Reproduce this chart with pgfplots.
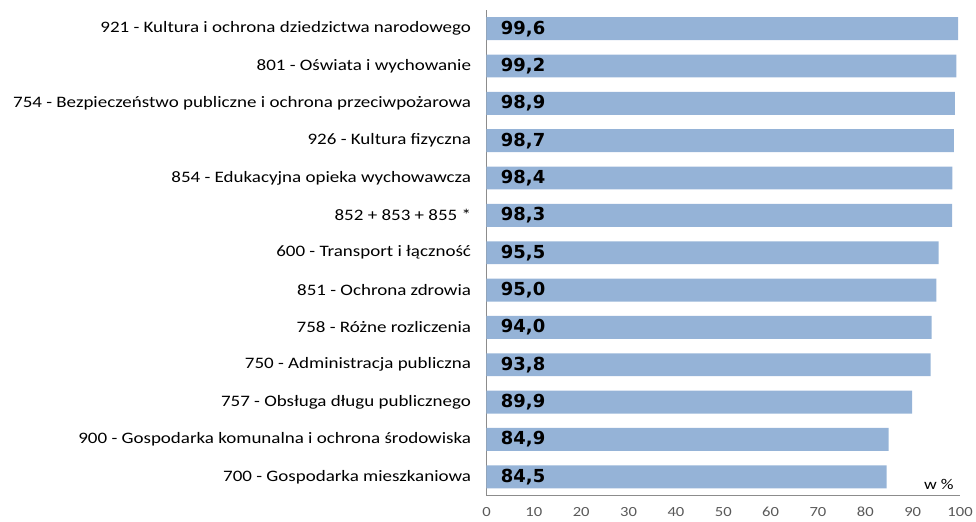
\documentclass[border=0pt]{standalone}
\usepackage{fontspec}
\setmainfont{Carlito}[FakeStretch=1.19]
\newfontfamily\valfont{DejaVu Sans}
\usepackage{pgfplots}
\pgfplotsset{compat=1.18}
\definecolor{barblue}{HTML}{95B3D7}
\definecolor{axgray}{HTML}{8C8C8C}
\definecolor{tickgray}{HTML}{595959}
\begin{document}
\begin{tikzpicture}
\begin{axis}[
  scale only axis,
  width=475pt, height=487pt,
  xmin=0, xmax=100, ymin=-0.5, ymax=12.5,
  xtick={0,10,...,100},
  ytick={0,...,12},
  yticklabels={
    700 - Gospodarka mieszkaniowa,
    900 - Gospodarka komunalna i ochrona środowiska,
    757 - Obsługa długu publicznego,
    750 - Administracja publiczna,
    758 - Różne rozliczenia,
    851 - Ochrona zdrowia,
    600 - Transport i łączność,
    852 + 853 + 855 *,
    854 - Edukacyjna opieka wychowawcza,
    926 - Kultura fizyczna,
    754 - Bezpieczeństwo publiczne i ochrona przeciwpożarowa,
    801 - Oświata i wychowanie,
    921 - Kultura i ochrona dziedzictwa narodowego},
  axis lines*=left,
  axis line style={axgray, line width=0.8pt},
  major tick length=0pt,
  tick style={draw=none},
  /pgf/number format/assume math mode=true,
  xticklabel style={font=\fontsize{14}{15}\selectfont, text=tickgray, yshift=-8pt},
  yticklabel style={font=\fontsize{16}{18}\selectfont, text=black, xshift=-12pt},
  clip=false,
]
\addplot[xbar, bar width=23pt, fill=barblue, draw=none] coordinates {
  (84.5,0) (84.9,1) (89.9,2) (93.8,3) (94.0,4) (95.0,5) (95.5,6)
  (98.3,7) (98.4,8) (98.7,9) (98.9,10) (99.2,11) (99.6,12)};
\addplot[draw=none, mark=none, point meta=explicit symbolic,
  nodes near coords, nodes near coords style={anchor=west, font=\valfont\fontsize{18}{20}\selectfont\bfseries, text=black, xshift=11pt}]
  coordinates {
  (0,0) [84,5] (0,1) [84,9] (0,2) [89,9] (0,3) [93,8] (0,4) [94,0] (0,5) [95,0] (0,6) [95,5]
  (0,7) [98,3] (0,8) [98,4] (0,9) [98,7] (0,10) [98,9] (0,11) [99,2] (0,12) [99,6]};
\node[anchor=south, font=\fontsize{15}{16}\selectfont, text=black] at (rel axis cs:0.955,0.005) {w \%};
\path (rel axis cs:0,1) ++(-488pt,10pt) (rel axis cs:1,0) ++(13pt,-26pt);
\end{axis}
\end{tikzpicture}
\end{document}
